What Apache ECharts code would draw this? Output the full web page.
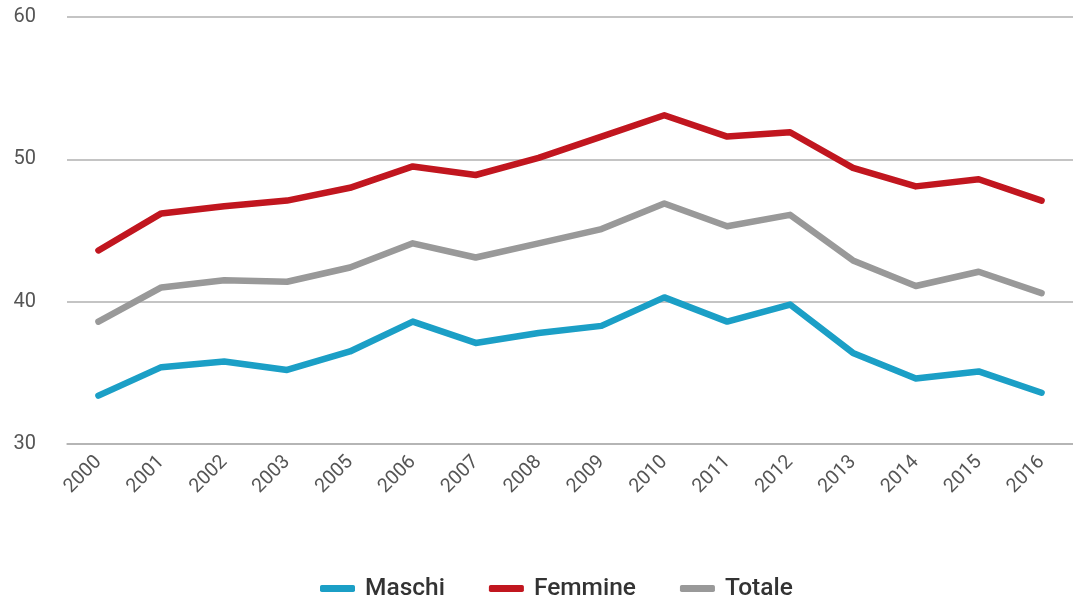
<!DOCTYPE html>
<html><head><meta charset="utf-8">
<script src="https://cdn.jsdelivr.net/npm/echarts@6/dist/echarts.min.js"></script>
<style>html,body{margin:0;padding:0;background:#fff}#c{width:1073px;height:600px}</style>
</head><body><div id="c"></div>
<script>
const categories = ['2000','2001','2002','2003','2005','2006','2007','2008','2009','2010','2011','2012','2013','2014','2015','2016'];
const maschi   = [33.4,35.4,35.8,35.2,36.5,38.6,37.1,37.8,38.3,40.3,38.6,39.8,36.4,34.6,35.1,33.6];
const femmine  = [43.6,46.2,46.7,47.1,48.0,49.5,48.9,50.1,51.6,53.1,51.6,51.9,49.4,48.1,48.6,47.1];
const totale   = [38.6,41.0,41.5,41.4,42.4,44.1,43.1,44.1,45.1,46.9,45.3,46.1,42.9,41.1,42.1,40.6];
const yTicks = [30,40,50,60];

const chart = echarts.init(document.getElementById('c'));
function s(name, data, color){
  return {name, type:'line', data, symbol:'none', smooth:false,
    lineStyle:{width:6.5, color, cap:'round', join:'round'}, itemStyle:{color}};
}
chart.setOption({
  animation:false,
  grid:{left:67, right:-5, top:17, bottom:156},
  legend:{top:571, left:315, itemWidth:35, itemHeight:7, itemGap:44,
    icon:'roundRect',
    textStyle:{fontFamily:'Roboto', fontSize:24.5, fontWeight:'500', color:'#333', padding:[0,0,0,5]},
    data:['Maschi','Femmine','Totale']},
  xAxis:{type:'category', data:categories, boundaryGap:true,
    axisLine:{lineStyle:{color:'#b0b0b0', width:1.5}},
    axisTick:{alignWithLabel:true, length:7, lineStyle:{color:'#aaa'}},
    axisLabel:{rotate:45, fontFamily:'Roboto', fontSize:19.5, color:'#555', margin:15}},
  yAxis:{type:'value', min:30, max:60, interval:10,
    axisLine:{show:false}, axisTick:{show:false},
    splitLine:{lineStyle:{color:'#b0b0b0', width:1.5}},
    axisLabel:{fontFamily:'Roboto', fontSize:20, color:'#555', margin:31, align:'right',
      formatter:v=>yTicks.includes(v)?String(v):''}},
  series:[s('Maschi',maschi,'#1b9fc6'), s('Femmine',femmine,'#c1161f'), s('Totale',totale,'#999999')]
});
</script></body></html>
